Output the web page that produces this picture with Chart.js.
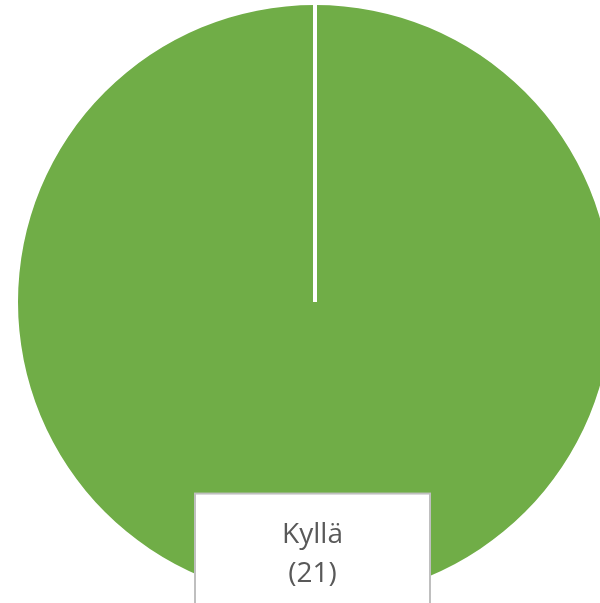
<!DOCTYPE html>
<html>
<head>
<meta charset="utf-8">
<script src="https://cdn.jsdelivr.net/npm/chart.js@4"></script>
<style>
  html, body { margin: 0; padding: 0; background: #fff; overflow: hidden; }
  #wrap { position: absolute; left: 0; top: 0; width: 620px; height: 620px; }
</style>
</head>
<body>
<div id="wrap"><canvas id="pieChart"></canvas></div>
<script>
// data
const labels = ["Kyllä"];
const values = [21];
const colors = ["#70ad47"];

// white separator line at the slice start + the data label box
const labelPlugin = {
    id: "sliceLabel",
    afterDatasetsDraw(chart) {
        const ctx = chart.ctx;
        const arc = chart.getDatasetMeta(0).data[0];
        const { x, y, outerRadius, startAngle } = arc.getProps(["x", "y", "outerRadius", "startAngle"], true);

        ctx.save();
        ctx.strokeStyle = "#ffffff";
        ctx.lineWidth = 4;
        ctx.beginPath();
        ctx.moveTo(x, y);
        ctx.lineTo(x + Math.cos(startAngle) * outerRadius, y + Math.sin(startAngle) * outerRadius);
        ctx.stroke();

        // label box
        const bw = 235, bh = 130;
        const bx = x - 120, by = y + outerRadius * 0.645;
        ctx.fillStyle = "#ffffff";
        ctx.fillRect(bx, by, bw, bh);
        ctx.strokeStyle = "#bfbfbf";
        ctx.lineWidth = 2;
        ctx.strokeRect(bx, by, bw, bh);

        ctx.fillStyle = "#595959";
        ctx.font = "28px 'Open Sans'";
        ctx.textAlign = "center";
        ctx.textBaseline = "alphabetic";
        ctx.fillText(labels[0], bx + bw / 2, by + 49);
        ctx.fillText("(" + values[0] + ")", bx + bw / 2, by + 88);
        ctx.restore();
    }
};

const pieConfig = {
    type: "pie",
    data: {
        labels: labels,
        datasets: [
            {
                data: values,
                backgroundColor: colors,
                borderWidth: 0,
            },
        ],
    },
    options: {
        responsive: false,
        animation: false,
        layout: {
            padding: { left: 18, top: 5, right: 8, bottom: 21 },
        },
        plugins: {
            legend: { display: false },
            tooltip: { enabled: false },
        },
    },
    plugins: [labelPlugin],
};

const pieCtx = document.getElementById("pieChart");
pieCtx.width = 620;
pieCtx.height = 620;
window.myPie = new Chart(pieCtx, pieConfig);
</script>
</body>
</html>
